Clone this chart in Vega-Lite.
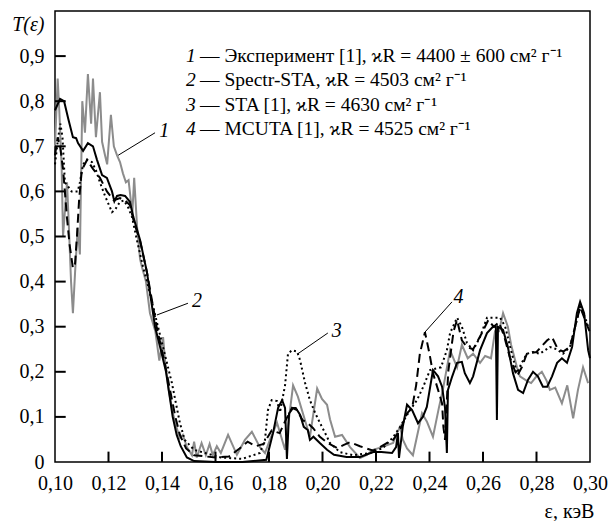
{
  "$schema": "https://vega.github.io/schema/vega-lite/v6.json",
  "width": 535,
  "height": 451,
  "autosize": {"type": "none"},
  "padding": {"left": 55, "top": 11, "right": 20, "bottom": 59},
  "background": "white",
  "config": {
    "font": "Liberation Serif",
    "view": {"stroke": "black", "strokeWidth": 1.5},
    "axis": {"domain": false, "grid": false, "ticks": false, "tickSize": 0, "labelColor": "black", "titleColor": "black", "labelFont": "Liberation Serif", "titleFont": "Liberation Serif", "labelFontSize": 20, "titleFontSize": 20, "titleFontWeight": "normal"}
  },
  "datasets": {
    "curves": [
      {"s":"1","x":0.1000,"y":0.70},{"s":"1","x":0.1010,"y":0.85},{"s":"1","x":0.1016,"y":0.78},{"s":"1","x":0.1025,"y":0.65},{"s":"1","x":0.1030,"y":0.50},{"s":"1","x":0.1045,"y":0.62},{"s":"1","x":0.1050,"y":0.55},{"s":"1","x":0.1060,"y":0.40},{"s":"1","x":0.1067,"y":0.33},{"s":"1","x":0.1075,"y":0.42},{"s":"1","x":0.1085,"y":0.52},{"s":"1","x":0.1093,"y":0.46},{"s":"1","x":0.1102,"y":0.80},{"s":"1","x":0.1112,"y":0.73},{"s":"1","x":0.1123,"y":0.86},{"s":"1","x":0.1135,"y":0.75},{"s":"1","x":0.1142,"y":0.85},{"s":"1","x":0.1153,"y":0.72},{"s":"1","x":0.1168,"y":0.82},{"s":"1","x":0.1176,"y":0.71},{"s":"1","x":0.1187,"y":0.68},{"s":"1","x":0.1195,"y":0.66},{"s":"1","x":0.1209,"y":0.77},{"s":"1","x":0.1220,"y":0.70},{"s":"1","x":0.1232,"y":0.68},{"s":"1","x":0.1243,"y":0.665},{"s":"1","x":0.1254,"y":0.64},{"s":"1","x":0.1265,"y":0.62},{"s":"1","x":0.1275,"y":0.625},{"s":"1","x":0.1289,"y":0.55},{"s":"1","x":0.1296,"y":0.63},{"s":"1","x":0.1307,"y":0.52},{"s":"1","x":0.1318,"y":0.45},{"s":"1","x":0.1326,"y":0.43},{"s":"1","x":0.1340,"y":0.40},{"s":"1","x":0.1355,"y":0.33},{"s":"1","x":0.1375,"y":0.29},{"s":"1","x":0.1390,"y":0.225},{"s":"1","x":0.1404,"y":0.277},{"s":"1","x":0.1412,"y":0.22},{"s":"1","x":0.1425,"y":0.16},{"s":"1","x":0.1440,"y":0.11},{"s":"1","x":0.1455,"y":0.075},{"s":"1","x":0.1467,"y":0.053},{"s":"1","x":0.1478,"y":0.06},{"s":"1","x":0.1493,"y":0.033},{"s":"1","x":0.1512,"y":0.015},{"s":"1","x":0.1520,"y":0.045},{"s":"1","x":0.1530,"y":0.01},{"s":"1","x":0.1548,"y":0.042},{"s":"1","x":0.1564,"y":0.015},{"s":"1","x":0.1578,"y":0.04},{"s":"1","x":0.1590,"y":0.015},{"s":"1","x":0.1605,"y":0.035},{"s":"1","x":0.1620,"y":0.02},{"s":"1","x":0.1647,"y":0.06},{"s":"1","x":0.1680,"y":0.016},{"s":"1","x":0.1710,"y":0.049},{"s":"1","x":0.1736,"y":0.067},{"s":"1","x":0.1766,"y":0.033},{"s":"1","x":0.1785,"y":0.02},{"s":"1","x":0.1804,"y":0.05},{"s":"1","x":0.1830,"y":0.087},{"s":"1","x":0.1860,"y":0.027},{"s":"1","x":0.1890,"y":0.17},{"s":"1","x":0.1908,"y":0.145},{"s":"1","x":0.1953,"y":0.056},{"s":"1","x":0.1980,"y":0.163},{"s":"1","x":0.1998,"y":0.14},{"s":"1","x":0.2017,"y":0.127},{"s":"1","x":0.2028,"y":0.095},{"s":"1","x":0.2047,"y":0.056},{"s":"1","x":0.2073,"y":0.06},{"s":"1","x":0.2103,"y":0.033},{"s":"1","x":0.2140,"y":0.009},{"s":"1","x":0.2166,"y":0.016},{"s":"1","x":0.2189,"y":0.027},{"s":"1","x":0.2222,"y":0.033},{"s":"1","x":0.2264,"y":0.042},{"s":"1","x":0.2279,"y":0.065},{"s":"1","x":0.2290,"y":0.078},{"s":"1","x":0.2300,"y":0.05},{"s":"1","x":0.2316,"y":0.03},{"s":"1","x":0.2338,"y":0.015},{"s":"1","x":0.2372,"y":0.108},{"s":"1","x":0.2390,"y":0.09},{"s":"1","x":0.2413,"y":0.056},{"s":"1","x":0.2435,"y":0.12},{"s":"1","x":0.2450,"y":0.16},{"s":"1","x":0.2477,"y":0.248},{"s":"1","x":0.2503,"y":0.21},{"s":"1","x":0.2521,"y":0.26},{"s":"1","x":0.2543,"y":0.23},{"s":"1","x":0.2563,"y":0.24},{"s":"1","x":0.2589,"y":0.22},{"s":"1","x":0.2608,"y":0.235},{"s":"1","x":0.2630,"y":0.23},{"s":"1","x":0.2645,"y":0.29},{"s":"1","x":0.2660,"y":0.29},{"s":"1","x":0.2675,"y":0.33},{"s":"1","x":0.2693,"y":0.30},{"s":"1","x":0.2705,"y":0.26},{"s":"1","x":0.2727,"y":0.21},{"s":"1","x":0.2738,"y":0.19},{"s":"1","x":0.2764,"y":0.18},{"s":"1","x":0.2780,"y":0.175},{"s":"1","x":0.2800,"y":0.19},{"s":"1","x":0.2820,"y":0.20},{"s":"1","x":0.2838,"y":0.18},{"s":"1","x":0.2850,"y":0.16},{"s":"1","x":0.2870,"y":0.165},{"s":"1","x":0.2895,"y":0.13},{"s":"1","x":0.2915,"y":0.17},{"s":"1","x":0.2937,"y":0.097},{"s":"1","x":0.2955,"y":0.16},{"s":"1","x":0.2974,"y":0.21},{"s":"1","x":0.2993,"y":0.175},

      {"s":"2","x":0.1000,"y":0.78},{"s":"2","x":0.1019,"y":0.805},{"s":"2","x":0.1034,"y":0.80},{"s":"2","x":0.1050,"y":0.76},{"s":"2","x":0.1067,"y":0.72},{"s":"2","x":0.1079,"y":0.718},{"s":"2","x":0.1086,"y":0.707},{"s":"2","x":0.1105,"y":0.69},{"s":"2","x":0.1123,"y":0.707},{"s":"2","x":0.1142,"y":0.70},{"s":"2","x":0.1157,"y":0.67},{"s":"2","x":0.1176,"y":0.636},{"s":"2","x":0.1194,"y":0.63},{"s":"2","x":0.1213,"y":0.60},{"s":"2","x":0.1222,"y":0.578},{"s":"2","x":0.1232,"y":0.59},{"s":"2","x":0.1245,"y":0.592},{"s":"2","x":0.1262,"y":0.59},{"s":"2","x":0.1280,"y":0.577},{"s":"2","x":0.1293,"y":0.543},{"s":"2","x":0.1318,"y":0.492},{"s":"2","x":0.1344,"y":0.42},{"s":"2","x":0.1374,"y":0.30},{"s":"2","x":0.1395,"y":0.25},{"s":"2","x":0.1415,"y":0.20},{"s":"2","x":0.1430,"y":0.14},{"s":"2","x":0.1440,"y":0.10},{"s":"2","x":0.1455,"y":0.06},{"s":"2","x":0.1470,"y":0.035},{"s":"2","x":0.1493,"y":0.01},{"s":"2","x":0.1520,"y":0.002},{"s":"2","x":0.1600,"y":0.0},{"s":"2","x":0.1700,"y":0.0},{"s":"2","x":0.1790,"y":0.005},{"s":"2","x":0.1815,"y":0.064},{"s":"2","x":0.1834,"y":0.12},{"s":"2","x":0.1849,"y":0.137},{"s":"2","x":0.1860,"y":0.12},{"s":"2","x":0.1867,"y":0.007},{"s":"2","x":0.1875,"y":0.108},{"s":"2","x":0.1890,"y":0.12},{"s":"2","x":0.1900,"y":0.12},{"s":"2","x":0.1916,"y":0.105},{"s":"2","x":0.1930,"y":0.078},{"s":"2","x":0.1945,"y":0.071},{"s":"2","x":0.1953,"y":0.049},{"s":"2","x":0.1966,"y":0.056},{"s":"2","x":0.1990,"y":0.042},{"s":"2","x":0.2017,"y":0.027},{"s":"2","x":0.2043,"y":0.016},{"s":"2","x":0.2090,"y":0.011},{"s":"2","x":0.2140,"y":0.011},{"s":"2","x":0.2190,"y":0.022},{"s":"2","x":0.2220,"y":0.022},{"s":"2","x":0.2260,"y":0.02},{"s":"2","x":0.2275,"y":0.033},{"s":"2","x":0.2282,"y":0.064},{"s":"2","x":0.2286,"y":0.009},{"s":"2","x":0.2300,"y":0.078},{"s":"2","x":0.2316,"y":0.127},{"s":"2","x":0.2335,"y":0.115},{"s":"2","x":0.2357,"y":0.086},{"s":"2","x":0.2375,"y":0.10},{"s":"2","x":0.2390,"y":0.122},{"s":"2","x":0.2413,"y":0.204},{"s":"2","x":0.2432,"y":0.19},{"s":"2","x":0.2447,"y":0.167},{"s":"2","x":0.2458,"y":0.12},{"s":"2","x":0.2465,"y":0.02},{"s":"2","x":0.2469,"y":0.16},{"s":"2","x":0.2485,"y":0.19},{"s":"2","x":0.2503,"y":0.22},{"s":"2","x":0.2521,"y":0.222},{"s":"2","x":0.2532,"y":0.197},{"s":"2","x":0.2551,"y":0.175},{"s":"2","x":0.2563,"y":0.19},{"s":"2","x":0.2589,"y":0.248},{"s":"2","x":0.2615,"y":0.286},{"s":"2","x":0.2637,"y":0.30},{"s":"2","x":0.2648,"y":0.30},{"s":"2","x":0.2652,"y":0.093},{"s":"2","x":0.2656,"y":0.30},{"s":"2","x":0.2675,"y":0.293},{"s":"2","x":0.2693,"y":0.255},{"s":"2","x":0.2712,"y":0.197},{"s":"2","x":0.2731,"y":0.16},{"s":"2","x":0.2750,"y":0.153},{"s":"2","x":0.2768,"y":0.182},{"s":"2","x":0.2787,"y":0.20},{"s":"2","x":0.2805,"y":0.19},{"s":"2","x":0.2824,"y":0.167},{"s":"2","x":0.2840,"y":0.167},{"s":"2","x":0.2858,"y":0.19},{"s":"2","x":0.2877,"y":0.22},{"s":"2","x":0.2895,"y":0.23},{"s":"2","x":0.2914,"y":0.22},{"s":"2","x":0.2933,"y":0.255},{"s":"2","x":0.2951,"y":0.33},{"s":"2","x":0.2963,"y":0.355},{"s":"2","x":0.2978,"y":0.33},{"s":"2","x":0.2993,"y":0.248},{"s":"2","x":0.3000,"y":0.23},

      {"s":"3","x":0.1000,"y":0.66},{"s":"3","x":0.1012,"y":0.72},{"s":"3","x":0.1020,"y":0.75},{"s":"3","x":0.1028,"y":0.72},{"s":"3","x":0.1037,"y":0.62},{"s":"3","x":0.1050,"y":0.61},{"s":"3","x":0.1062,"y":0.60},{"s":"3","x":0.1075,"y":0.60},{"s":"3","x":0.1085,"y":0.60},{"s":"3","x":0.1093,"y":0.62},{"s":"3","x":0.1105,"y":0.66},{"s":"3","x":0.1120,"y":0.67},{"s":"3","x":0.1138,"y":0.665},{"s":"3","x":0.1153,"y":0.647},{"s":"3","x":0.1168,"y":0.62},{"s":"3","x":0.1187,"y":0.59},{"s":"3","x":0.1213,"y":0.554},{"s":"3","x":0.1225,"y":0.56},{"s":"3","x":0.1243,"y":0.577},{"s":"3","x":0.1258,"y":0.58},{"s":"3","x":0.1273,"y":0.565},{"s":"3","x":0.1288,"y":0.543},{"s":"3","x":0.1307,"y":0.49},{"s":"3","x":0.1330,"y":0.43},{"s":"3","x":0.1344,"y":0.40},{"s":"3","x":0.1385,"y":0.30},{"s":"3","x":0.1410,"y":0.24},{"s":"3","x":0.1437,"y":0.175},{"s":"3","x":0.1467,"y":0.086},{"s":"3","x":0.1485,"y":0.049},{"s":"3","x":0.1520,"y":0.027},{"s":"3","x":0.1560,"y":0.02},{"s":"3","x":0.1620,"y":0.01},{"s":"3","x":0.1700,"y":0.007},{"s":"3","x":0.1766,"y":0.02},{"s":"3","x":0.1785,"y":0.049},{"s":"3","x":0.1796,"y":0.115},{"s":"3","x":0.1810,"y":0.137},{"s":"3","x":0.1830,"y":0.135},{"s":"3","x":0.1841,"y":0.11},{"s":"3","x":0.1860,"y":0.17},{"s":"3","x":0.1871,"y":0.24},{"s":"3","x":0.1886,"y":0.248},{"s":"3","x":0.1905,"y":0.245},{"s":"3","x":0.1916,"y":0.226},{"s":"3","x":0.1935,"y":0.175},{"s":"3","x":0.1953,"y":0.137},{"s":"3","x":0.1973,"y":0.108},{"s":"3","x":0.1991,"y":0.086},{"s":"3","x":0.2010,"y":0.064},{"s":"3","x":0.2028,"y":0.042},{"s":"3","x":0.2065,"y":0.022},{"s":"3","x":0.2114,"y":0.015},{"s":"3","x":0.2178,"y":0.02},{"s":"3","x":0.2226,"y":0.031},{"s":"3","x":0.2264,"y":0.055},{"s":"3","x":0.2290,"y":0.078},{"s":"3","x":0.2327,"y":0.115},{"s":"3","x":0.2353,"y":0.137},{"s":"3","x":0.2376,"y":0.166},{"s":"3","x":0.2402,"y":0.204},{"s":"3","x":0.2443,"y":0.21},{"s":"3","x":0.2465,"y":0.248},{"s":"3","x":0.2477,"y":0.286},{"s":"3","x":0.2503,"y":0.32},{"s":"3","x":0.2521,"y":0.30},{"s":"3","x":0.2540,"y":0.264},{"s":"3","x":0.2563,"y":0.248},{"s":"3","x":0.2589,"y":0.277},{"s":"3","x":0.2615,"y":0.32},{"s":"3","x":0.2664,"y":0.32},{"s":"3","x":0.2683,"y":0.30},{"s":"3","x":0.2708,"y":0.24},{"s":"3","x":0.2727,"y":0.197},{"s":"3","x":0.2745,"y":0.22},{"s":"3","x":0.2764,"y":0.24},{"s":"3","x":0.2787,"y":0.244},{"s":"3","x":0.2812,"y":0.24},{"s":"3","x":0.2850,"y":0.255},{"s":"3","x":0.2875,"y":0.25},{"s":"3","x":0.2899,"y":0.24},{"s":"3","x":0.2925,"y":0.255},{"s":"3","x":0.2951,"y":0.315},{"s":"3","x":0.2963,"y":0.344},{"s":"3","x":0.2982,"y":0.32},{"s":"3","x":0.2993,"y":0.30},

      {"s":"4","x":0.1000,"y":0.68},{"s":"4","x":0.1010,"y":0.72},{"s":"4","x":0.1019,"y":0.70},{"s":"4","x":0.1030,"y":0.65},{"s":"4","x":0.1045,"y":0.54},{"s":"4","x":0.1055,"y":0.48},{"s":"4","x":0.1067,"y":0.43},{"s":"4","x":0.1075,"y":0.44},{"s":"4","x":0.1082,"y":0.50},{"s":"4","x":0.1090,"y":0.58},{"s":"4","x":0.1100,"y":0.647},{"s":"4","x":0.1120,"y":0.67},{"s":"4","x":0.1142,"y":0.65},{"s":"4","x":0.1168,"y":0.63},{"s":"4","x":0.1194,"y":0.60},{"s":"4","x":0.1220,"y":0.58},{"s":"4","x":0.1243,"y":0.585},{"s":"4","x":0.1262,"y":0.58},{"s":"4","x":0.1280,"y":0.57},{"s":"4","x":0.1296,"y":0.53},{"s":"4","x":0.1318,"y":0.49},{"s":"4","x":0.1344,"y":0.42},{"s":"4","x":0.1380,"y":0.30},{"s":"4","x":0.1410,"y":0.22},{"s":"4","x":0.1430,"y":0.16},{"s":"4","x":0.1450,"y":0.10},{"s":"4","x":0.1467,"y":0.06},{"s":"4","x":0.1490,"y":0.03},{"s":"4","x":0.1520,"y":0.015},{"s":"4","x":0.1600,"y":0.01},{"s":"4","x":0.1650,"y":0.012},{"s":"4","x":0.1690,"y":0.03},{"s":"4","x":0.1720,"y":0.045},{"s":"4","x":0.1750,"y":0.035},{"s":"4","x":0.1780,"y":0.04},{"s":"4","x":0.1810,"y":0.07},{"s":"4","x":0.1840,"y":0.064},{"s":"4","x":0.1860,"y":0.09},{"s":"4","x":0.1886,"y":0.12},{"s":"4","x":0.1905,"y":0.115},{"s":"4","x":0.1925,"y":0.093},{"s":"4","x":0.1945,"y":0.086},{"s":"4","x":0.1965,"y":0.075},{"s":"4","x":0.1990,"y":0.056},{"s":"4","x":0.2020,"y":0.042},{"s":"4","x":0.2055,"y":0.031},{"s":"4","x":0.2080,"y":0.038},{"s":"4","x":0.2103,"y":0.044},{"s":"4","x":0.2140,"y":0.035},{"s":"4","x":0.2160,"y":0.031},{"s":"4","x":0.2190,"y":0.025},{"s":"4","x":0.2215,"y":0.033},{"s":"4","x":0.2240,"y":0.042},{"s":"4","x":0.2264,"y":0.049},{"s":"4","x":0.2290,"y":0.071},{"s":"4","x":0.2316,"y":0.108},{"s":"4","x":0.2335,"y":0.12},{"s":"4","x":0.2350,"y":0.17},{"s":"4","x":0.2364,"y":0.24},{"s":"4","x":0.2383,"y":0.288},{"s":"4","x":0.2400,"y":0.24},{"s":"4","x":0.2413,"y":0.197},{"s":"4","x":0.2432,"y":0.16},{"s":"4","x":0.2447,"y":0.13},{"s":"4","x":0.2452,"y":0.078},{"s":"4","x":0.2458,"y":0.049},{"s":"4","x":0.2470,"y":0.20},{"s":"4","x":0.2490,"y":0.29},{"s":"4","x":0.2503,"y":0.315},{"s":"4","x":0.2521,"y":0.27},{"s":"4","x":0.2540,"y":0.255},{"s":"4","x":0.2563,"y":0.25},{"s":"4","x":0.2596,"y":0.286},{"s":"4","x":0.2620,"y":0.315},{"s":"4","x":0.2640,"y":0.30},{"s":"4","x":0.2660,"y":0.31},{"s":"4","x":0.2680,"y":0.277},{"s":"4","x":0.2700,"y":0.233},{"s":"4","x":0.2727,"y":0.19},{"s":"4","x":0.2745,"y":0.21},{"s":"4","x":0.2764,"y":0.24},{"s":"4","x":0.2800,"y":0.244},{"s":"4","x":0.2840,"y":0.27},{"s":"4","x":0.2858,"y":0.277},{"s":"4","x":0.2880,"y":0.25},{"s":"4","x":0.2900,"y":0.245},{"s":"4","x":0.2925,"y":0.255},{"s":"4","x":0.2951,"y":0.315},{"s":"4","x":0.2963,"y":0.344},{"s":"4","x":0.2985,"y":0.31},{"s":"4","x":0.3000,"y":0.287}
    ],
    "xticks": [{"v":0.12},{"v":0.14},{"v":0.16},{"v":0.18},{"v":0.20},{"v":0.22},{"v":0.24},{"v":0.26},{"v":0.28}],
    "yticks": [{"v":0.1},{"v":0.2},{"v":0.3},{"v":0.4},{"v":0.5},{"v":0.6},{"v":0.7},{"v":0.8},{"v":0.9}],
    "leaders": [
      {"n":"1","x":0.1236,"y":0.68,"x2":0.1374,"y2":0.73,"lx":0.1390,"ly":0.735},
      {"n":"2","x":0.1381,"y":0.326,"x2":0.1497,"y2":0.352,"lx":0.1512,"ly":0.356},
      {"n":"3","x":0.1908,"y":0.24,"x2":0.2020,"y2":0.286,"lx":0.2035,"ly":0.29},
      {"n":"4","x":0.2383,"y":0.288,"x2":0.2484,"y2":0.355,"lx":0.2490,"ly":0.365}
    ],
    "legend": [
      {"n":"1","t":"— Эксперимент [1], ϰR = 4400 ± 600 см² г⁻¹","x":0.1490,"y":0.900},
      {"n":"2","t":"— Spectr-STA, ϰR = 4503 см² г⁻¹","x":0.1490,"y":0.846},
      {"n":"3","t":"— STA [1], ϰR = 4630 см² г⁻¹","x":0.1490,"y":0.792},
      {"n":"4","t":"— MCUTA [1], ϰR = 4525 см² г⁻¹","x":0.1490,"y":0.738}
    ]
  },
  "layer": [
    {
      "data": {"name": "curves"},
      "transform": [{"filter": "datum.s == '1'"}],
      "mark": {"type": "line", "color": "#8c8c8c", "strokeWidth": 2},
      "encoding": {
        "x": {"field": "x", "type": "quantitative",
          "scale": {"domain": [0.10, 0.30], "nice": false, "zero": false},
          "axis": {"values": [0.10,0.12,0.14,0.16,0.18,0.20,0.22,0.24,0.26,0.28,0.30],
            "labelExpr": "replace(format(datum.value, '.2f'), '.', ',')",
            "labelPadding": 11, "labelFlush": false,
            "title": "ε, кэВ", "titleX": 514, "titleY": 49, "titleAlign": "center", "titleBaseline": "middle"}},
        "y": {"field": "y", "type": "quantitative",
          "scale": {"domain": [0, 1.0], "nice": false, "zero": true},
          "axis": {"values": [0,0.1,0.2,0.3,0.4,0.5,0.6,0.7,0.8,0.9],
            "labelExpr": "datum.value == 0 ? '0' : replace(format(datum.value, '.1f'), '.', ',')",
            "labelPadding": 11, "labelFlush": false,
            "title": "T(ε)", "titleAngle": 0, "titleAlign": "right", "titleBaseline": "middle", "titleX": -11, "titleY": 13, "titleFontStyle": "italic"}}
      }
    },
    {
      "data": {"name": "xticks"},
      "mark": {"type": "rule", "color": "black", "strokeWidth": 2},
      "encoding": {"x": {"field": "v", "type": "quantitative"}, "y": {"datum": 0}, "y2": {"datum": 0.023}}
    },
    {
      "data": {"name": "yticks"},
      "mark": {"type": "rule", "color": "black", "strokeWidth": 2},
      "encoding": {"y": {"field": "v", "type": "quantitative"}, "x": {"datum": 0.10}, "x2": {"datum": 0.104}}
    },
    {
      "data": {"name": "curves"},
      "transform": [{"filter": "datum.s == '2'"}],
      "mark": {"type": "line", "color": "black", "strokeWidth": 2},
      "encoding": {"x": {"field": "x", "type": "quantitative"}, "y": {"field": "y", "type": "quantitative"}}
    },
    {
      "data": {"name": "curves"},
      "transform": [{"filter": "datum.s == '3'"}],
      "mark": {"type": "line", "color": "black", "strokeWidth": 2, "strokeDash": [2, 3]},
      "encoding": {"x": {"field": "x", "type": "quantitative"}, "y": {"field": "y", "type": "quantitative"}}
    },
    {
      "data": {"name": "curves"},
      "transform": [{"filter": "datum.s == '4'"}],
      "mark": {"type": "line", "color": "black", "strokeWidth": 2, "strokeDash": [9, 5]},
      "encoding": {"x": {"field": "x", "type": "quantitative"}, "y": {"field": "y", "type": "quantitative"}}
    },
    {
      "data": {"name": "leaders"},
      "mark": {"type": "rule", "color": "black", "strokeWidth": 1},
      "encoding": {"x": {"field": "x", "type": "quantitative"}, "y": {"field": "y", "type": "quantitative"}, "x2": {"field": "x2"}, "y2": {"field": "y2"}}
    },
    {
      "data": {"name": "leaders"},
      "mark": {"type": "text", "font": "Liberation Serif", "fontSize": 20, "fontStyle": "italic", "align": "left", "baseline": "middle", "color": "black"},
      "encoding": {"x": {"field": "lx", "type": "quantitative"}, "y": {"field": "ly", "type": "quantitative"}, "text": {"field": "n"}}
    },
    {
      "data": {"name": "legend"},
      "mark": {"type": "text", "font": "Liberation Serif", "fontSize": 19.5, "fontStyle": "italic", "align": "left", "baseline": "middle", "color": "black"},
      "encoding": {"x": {"field": "x", "type": "quantitative"}, "y": {"field": "y", "type": "quantitative"}, "text": {"field": "n"}}
    },
    {
      "data": {"name": "legend"},
      "mark": {"type": "text", "font": "Liberation Serif", "fontSize": 19.5, "align": "left", "baseline": "middle", "color": "black", "dx": 14},
      "encoding": {"x": {"field": "x", "type": "quantitative"}, "y": {"field": "y", "type": "quantitative"}, "text": {"field": "t"}}
    }
  ]
}
